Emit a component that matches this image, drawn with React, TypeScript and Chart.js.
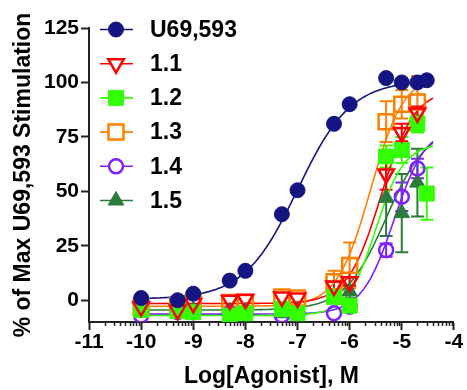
import React, { useEffect, useRef } from 'react';
import { Chart, registerables } from 'chart.js';
import { drawPoint } from 'chart.js/helpers';

Chart.register(...registerables);

// ---- data ----
const logConc = [-10, -9.3, -9, -8.3, -8, -7.3, -7, -6.3, -6, -5.3, -5, -4.7, -4.52];
const seriesNames = ['U69,593', '1.1', '1.2', '1.3', '1.4', '1.5'];

const u69Values = [1, 0, 3, 9, 13.5, 39.5, 50.5, 81, 90, 102, 100, 100, 101];
const s11Values = [-3, -4.5, -1.5, 0, 0.5, 1.5, 1, 6.5, 8.5, 58, 77, 86, null];
const s12Values = [-4.5, -5, -5.5, -7, -6, -4, -6, 1.5, -2.5, 66, 69, 81, 49];
const s13Values = [-3, -2.5, -1, -1, -1, 1.5, 1, 8.5, 16, 82, 90, 91, null];
const s14Values = [-7, -5.5, -5.5, -6, -6, -7, -6, -6, -3, 23, 47.5, 60.5, null];
const s15Values = [-4.5, -4.5, -4.5, -5, -5, -6, -5, 2, 4, 47, 40, 54, null];

const u69Err = [0, 0, 0, 0, 0, 0, 0, 0, 0, 0, 0, 0, 0];
const s11Err = [0, 0, 0, 0, 0, 0, 0, 2, 2, 7.3, 4, 3, 0];
const s12Err = [0, 0, 0, 0, 0, 0, 0, 2, 2, 5, 6, 4, 12];
const s13Err = [0, 0, 0, 0, 0, 0, 0, 5, 10.5, 9.4, 6.5, 12, 0];
const s14Err = [0, 0, 0, 0, 0, 0, 0, 0, 2, 3, 6.5, 4.5, 0];
const s15Err = [0, 0, 0, 0, 0, 0, 0, 2, 3, 17.5, 18, 15.5, 0];

// nonlinear fit parameters (bottom, top, logEC50, Hill slope)
const fitBottom = [0.5, -1.5, -7, -2.8, -6.4, -4.5];
const fitTop = [101, 97, 72, 104, 80, 80];
const fitLogEC50 = [-7.0, -5.4, -5.5, -5.6, -5.15, -5.3];
const fitHill = [0.85, 1.35, 1.6, 1.35, 1.4, 1.1];
const curveRange = [-10.05, -4.4];

const xTickValues = [-11, -10, -9, -8, -7, -6, -5, -4];
const yTickValues = [0, 25, 50, 75, 100, 125];

const seriesValues = [u69Values, s11Values, s12Values, s13Values, s14Values, s15Values];
const seriesErrors = [u69Err, s11Err, s12Err, s13Err, s14Err, s15Err];

// ---- styles ----
const colors = ['#141482', '#ff0000', '#33ff00', '#ff8000', '#8020ff', '#2b7b3b'];
const pointStyles = ['circle', 'triangle', 'rect', 'rect', 'circle', 'triangle'];
const rotations = [0, 180, 0, 0, 0, 0];
const filled = [true, false, true, false, false, true];
const radii = [7.5, 9, 10.6, 10.6, 7, 9];
const FONT = '"Liberation Sans", Arial, sans-serif';

function curvePoints(i: number) {
  const pts: { x: number; y: number }[] = [];
  const n = 200;
  for (let k = 0; k <= n; k++) {
    const x = curveRange[0] + ((curveRange[1] - curveRange[0]) * k) / n;
    const y = fitBottom[i] + (fitTop[i] - fitBottom[i]) / (1 + Math.pow(10, (fitLogEC50[i] - x) * fitHill[i]));
    pts.push({ x, y });
  }
  return pts;
}

const errorBarPlugin = {
  id: 'errorBars',
  beforeDatasetsDraw(chart: any) {
    const { ctx } = chart;
    const xs = chart.scales.x;
    const ys = chart.scales.y;
    ctx.save();
    for (let i = seriesValues.length - 1; i >= 0; i--) {
      const vals = seriesValues[i];
      const errs = seriesErrors[i];
      ctx.strokeStyle = colors[i];
      ctx.lineWidth = 2;
      vals.forEach((v, j) => {
        const e = errs[j];
        if (v == null || !e) return;
        const px = xs.getPixelForValue(logConc[j]);
        const t = ys.getPixelForValue(v + e);
        const b = ys.getPixelForValue(v - e);
        ctx.beginPath();
        ctx.moveTo(px, t);
        ctx.lineTo(px, b);
        ctx.moveTo(px - 6.5, t);
        ctx.lineTo(px + 6.5, t);
        ctx.moveTo(px - 6.5, b);
        ctx.lineTo(px + 6.5, b);
        ctx.stroke();
      });
    }
    ctx.restore();
  },
};

const extrasPlugin = {
  id: 'extras',
  afterDraw(chart: any) {
    const { ctx, chartArea } = chart;
    const xs = chart.scales.x;
    ctx.save();
    // minor log ticks on x axis
    ctx.strokeStyle = '#222';
    ctx.lineWidth = 1.5;
    for (let d = -11; d < -4; d++) {
      for (let k = 2; k <= 9; k++) {
        const px = Math.round(xs.getPixelForValue(d + Math.log10(k))) + 0.5;
        ctx.beginPath();
        ctx.moveTo(px, chartArea.bottom);
        ctx.lineTo(px, chartArea.bottom + 4);
        ctx.stroke();
      }
    }
    // legend
    const lx0 = 100, lx1 = 133, mx = 116, tx = 150, y0 = 29.5, dy = 34.2;
    seriesNames.forEach((name, i) => {
      const y = y0 + i * dy;
      ctx.strokeStyle = colors[i];
      ctx.lineWidth = 1.6;
      ctx.beginPath();
      ctx.moveTo(lx0, y);
      ctx.lineTo(lx1, y);
      ctx.stroke();
      ctx.fillStyle = filled[i] ? colors[i] : '#ffffff';
      ctx.lineWidth = filled[i] ? 1 : 2.5;
      drawPoint(ctx, { pointStyle: pointStyles[i], rotation: rotations[i], radius: radii[i], borderWidth: ctx.lineWidth } as any, mx, y);
      ctx.fillStyle = '#000';
      ctx.font = `bold 23px ${FONT}`;
      ctx.textBaseline = 'middle';
      ctx.textAlign = 'left';
      ctx.fillText(name, tx, y + 1);
    });
    ctx.restore();
  },
};

export default function App() {
  const ref = useRef<HTMLCanvasElement>(null);
  useEffect(() => {
    if (!ref.current) return;
    const pointSets = seriesValues.map((vals, i) => ({
      label: seriesNames[i],
      data: vals.map((v, j) => (v == null ? null : { x: logConc[j], y: v })).filter((p) => p) as any,
      showLine: false,
      pointStyle: pointStyles[i],
      pointRotation: rotations[i],
      pointRadius: radii[i],
      pointBackgroundColor: filled[i] ? colors[i] : 'rgba(0,0,0,0)',
      pointBorderColor: colors[i],
      pointBorderWidth: filled[i] ? 1 : 2.5,
      order: i,
    }));
    const curveSets = seriesValues.map((_, i) => ({
      label: seriesNames[i] + ' fit',
      data: curvePoints(i),
      showLine: true,
      borderColor: colors[i],
      borderWidth: 1.6,
      pointRadius: 0,
      fill: false,
      order: 10 + i,
    }));
    const chart = new Chart(ref.current, {
      type: 'scatter',
      data: { datasets: [...pointSets, ...curveSets] as any },
      options: {
        animation: false,
        responsive: false,
        maintainAspectRatio: false,
        layout: { padding: { top: 28, right: 10, left: 0, bottom: 0 } },
        plugins: { legend: { display: false }, tooltip: { enabled: false } },
        scales: {
          x: {
            type: 'linear',
            min: -11,
            max: -4,
            afterBuildTicks: (s: any) => {
              s.ticks = xTickValues.map((v) => ({ value: v }));
            },
            afterFit: (s: any) => {
              s.height = 68;
            },
            grid: { display: true, drawOnChartArea: false, drawTicks: true, tickLength: 8, tickColor: '#222', tickWidth: 2 },
            border: { display: true, color: '#222', width: 2 },
            ticks: {
              color: '#000',
              font: { family: FONT, size: 21, weight: 'bold' },
              padding: 0,
              maxRotation: 0,
              autoSkip: false,
              callback: (v: any) => String(v),
            },
            title: {
              display: true,
              text: 'Log[Agonist], M',
              color: '#000',
              font: { family: FONT, size: 23, weight: 'bold' },
              padding: { top: 0, bottom: 0 },
            },
          },
          y: {
            type: 'linear',
            min: -10,
            max: 125,
            afterBuildTicks: (s: any) => {
              s.ticks = yTickValues.map((v) => ({ value: v }));
            },
            afterFit: (s: any) => {
              s.width = 89;
            },
            grid: { display: true, drawOnChartArea: false, drawTicks: true, tickLength: 8, tickColor: '#222', tickWidth: 2 },
            border: { display: true, color: '#222', width: 2 },
            ticks: {
              color: '#000',
              font: { family: FONT, size: 21, weight: 'bold' },
              padding: 2,
              callback: (v: any) => String(v),
            },
            title: {
              display: true,
              text: '% of Max U69,593 Stimulation',
              color: '#000',
              font: { family: FONT, size: 23, weight: 'bold' },
              padding: { top: 10, bottom: 0 },
            },
          },
        },
      } as any,
      plugins: [errorBarPlugin, extrasPlugin],
    });
    return () => chart.destroy();
  }, []);
  return (
    <div style={{ position: 'fixed', left: 0, top: 0, width: 467, height: 390, background: '#fff' }}>
      <canvas ref={ref} width={467} height={390} style={{ width: 467, height: 390 }} />
    </div>
  );
}
